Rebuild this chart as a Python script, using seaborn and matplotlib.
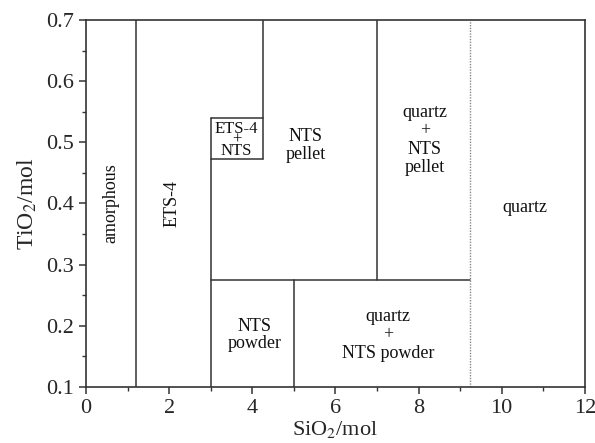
import matplotlib
matplotlib.use("Agg")
import matplotlib.pyplot as plt
import seaborn as sns
import pandas as pd
from matplotlib.ticker import MultipleLocator

sns.set_style("ticks")
plt.rcParams['font.family'] = ['Liberation Serif', 'DejaVu Serif']
plt.rcParams['mathtext.fontset'] = 'stix'

# Phase boundary segments (x0, x1, y0, y1)
seg_x0 = [1.2, 3.0, 3.0, 3.0, 4.25, 3.0, 5.0, 7.0]
seg_x1 = [1.2, 3.0, 4.25, 4.25, 4.25, 9.23, 5.0, 7.0]
seg_y0 = [0.1, 0.1, 0.54, 0.473, 0.473, 0.275, 0.1, 0.275]
seg_y1 = [0.7, 0.54, 0.54, 0.473, 0.7, 0.275, 0.275, 0.7]
dotted_x = [9.23, 9.23]
dotted_y = [0.1, 0.7]

labels = ["amorphous", "ETS-4", "ETS-4\n+\nNTS", "NTS\npellet",
          "quartz\n+\nNTS\npellet", "quartz", "NTS\npowder", "quartz\n+\nNTS powder"]
label_x = [0.6, 2.07, 3.62, 5.29, 8.15, 10.55, 4.06, 7.26]
label_y = [0.40, 0.40, 0.504, 0.495, 0.504, 0.394, 0.185, 0.185]

rows = []
for i in range(len(seg_x0)):
    rows.append({"seg": i, "x": seg_x0[i], "y": seg_y0[i]})
    rows.append({"seg": i, "x": seg_x1[i], "y": seg_y1[i]})
df = pd.DataFrame(rows)
dfd = pd.DataFrame({"seg": [0, 0], "x": dotted_x, "y": dotted_y})

fig = plt.figure(figsize=(5.95, 4.43), dpi=100)
ax = fig.add_axes([0.1445, 0.1264, 0.8385, 0.8285])

sns.lineplot(data=df, x="x", y="y", units="seg", estimator=None, sort=False,
             color="#333333", linewidth=1.1, ax=ax)
sns.lineplot(data=dfd, x="x", y="y", units="seg", estimator=None, sort=False,
             color="#888888", linewidth=1.0, linestyle=(0, (1, 1)), ax=ax)

sizes = [13, 13, 12, 13, 13, 13, 13, 13]
rots = [90, 90, 0, 0, 0, 0, 0, 0]
spacings = [1.0, 1.0, 0.6, 1.05, 1.1, 1.0, 1.05, 1.1]
for t, x, y, s, r, ls in zip(labels, label_x, label_y, sizes, rots, spacings):
    ax.text(x, y, t, ha="center", va="center", fontsize=s, rotation=r,
            linespacing=ls, color="#111111")

ax.set_xlim(0, 12)
ax.set_ylim(0.1, 0.7)
ax.xaxis.set_major_locator(MultipleLocator(2))
ax.xaxis.set_minor_locator(MultipleLocator(1))
ax.yaxis.set_major_locator(MultipleLocator(0.1))
ax.yaxis.set_minor_locator(MultipleLocator(0.05))
ax.tick_params(which="major", length=5, width=1.1, labelsize=16, color="#333333")
ax.tick_params(which="minor", length=3, width=1.0, color="#333333")
ax.set_xticklabels([f"{int(v)}" for v in ax.get_xticks()])
ax.set_yticklabels([f"{v:.1f}" for v in ax.get_yticks()])
for sp in ax.spines.values():
    sp.set_linewidth(1.2)
    sp.set_color("#333333")
    sp.set_visible(True)

ax.set_xlabel(r"SiO$_2$/mol", fontsize=16, labelpad=1)
ax.set_ylabel(r"TiO$_2$/mol", fontsize=17, labelpad=5)

fig.savefig("out.png", dpi=100)
